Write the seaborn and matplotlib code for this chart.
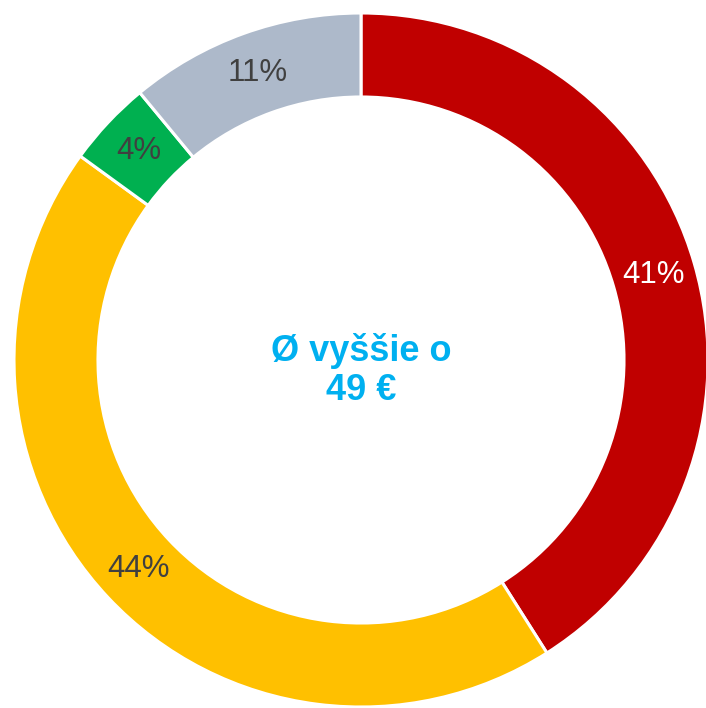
import matplotlib
matplotlib.use('Agg')
import matplotlib.pyplot as plt
import seaborn as sns

# podiely
segmenty = ['A', 'B', 'C', 'D']
hodnoty = [41, 44, 4, 11]
farby = ['#C00000', '#FFC000', '#00B050', '#ADB9CA']
farby_popisov = ['white', '#404040', '#404040', '#404040']
stred_text = 'Ø vyššie o\n49 €'

sns.set_theme(style='white')
plt.rcParams['font.family'] = ['Liberation Sans', 'DejaVu Sans']

W, H = 706, 708
cx, cy, R = 361, 360, 347
fig = plt.figure(figsize=(W / 100, H / 100), dpi=100)
ax = fig.add_axes([(cx - R) / W, (H - cy - R) / H, 2 * R / W, 2 * R / H])

ring = 0.242
wedges, texts = ax.pie(hodnoty, colors=sns.color_palette(farby), startangle=90,
                       counterclock=False, radius=1,
                       labels=[f'{v}%' for v in hodnoty], labeldistance=1 - ring / 2,
                       wedgeprops=dict(width=ring, edgecolor='white', linewidth=2.2),
                       textprops=dict(fontsize=22.5))
for t, c in zip(texts, farby_popisov):
    t.set_color(c)
    t.set_ha('center')
    t.set_va('center')

ax.text(0, -0.03, stred_text, ha='center', va='center', fontsize=26,
        fontweight='bold', color='#00B0F0', linespacing=1.15)
ax.set_xlim(-1, 1)
ax.set_ylim(-1, 1)
ax.set_aspect('auto')
ax.axis('off')

fig.savefig('out.png', dpi=100)
